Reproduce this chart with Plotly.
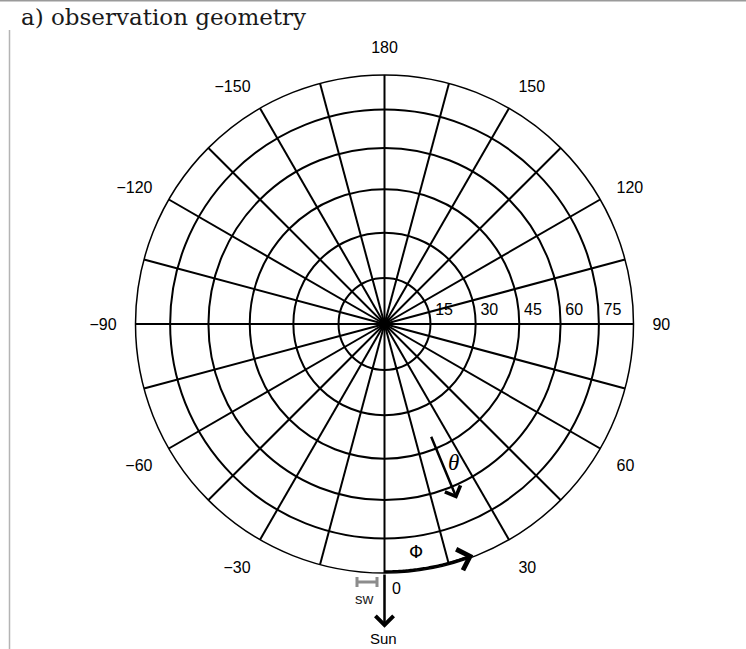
import numpy as np
import plotly.graph_objects as go

# ---------------- data ----------------
zenith_circles = [15, 30, 45, 60, 75]          # viewing-zenith grid circles (deg)
zenith_labels = ["15", "30", "45", "60", "75"]
zenith_max = 90
azimuth_step = 15                               # spoke spacing (deg)
azimuth_ticks = [0, 30, 60, 90, 120, 150, 180, 210, 240, 270, 300, 330]
azimuth_labels = ["0", "30", "60", "90", "120", "150", "180",
                  "\u2212150", "\u2212120", "\u221290", "\u221260", "\u221230"]
theta_arrow_zenith = [40, 65]                   # theta arrow from/to zenith
theta_arrow_azimuth = 22.5
phi_arc_azimuth = [0, 20]                       # phi arc from/to azimuth

# ---------------- geometry ----------------
W, H = 746, 649
CX, CY, R = 384.5, 324.0, 249.0                 # polar centre / radius in px


def ea(z):
    """Lambert equal-area radius for zenith angle z (deg)."""
    return 2.0 * np.sin(np.radians(z) / 2.0)


RMAX = ea(zenith_max)


def proj(z, az, scale=None):
    rho = R * (ea(z) / RMAX if scale is None else scale)
    a = np.radians(az)
    return CX + rho * np.sin(a), CY + rho * np.cos(a)


label_font = dict(family="Liberation Sans, Arial, sans-serif", size=16, color="black")

fig = go.Figure()

# radial (zenith) labels along the 90 deg azimuth
fig.add_trace(go.Scatterpolar(
    r=[ea(z) for z in zenith_circles], theta=[90] * len(zenith_circles),
    mode="markers+text", text=zenith_labels, textposition="top right",
    marker=dict(size=6, color="rgba(0,0,0,0)"),
    textfont=label_font, cliponaxis=False, hoverinfo="skip", showlegend=False))

# phi arc along the outer circle
arc_theta = np.linspace(phi_arc_azimuth[0], phi_arc_azimuth[1], 60)
fig.add_trace(go.Scatterpolar(
    r=[RMAX * 0.995] * len(arc_theta), theta=arc_theta, mode="lines",
    line=dict(color="black", width=3), cliponaxis=False,
    hoverinfo="skip", showlegend=False))

# frame lines (cartesian pixel overlay)
fig.add_trace(go.Scatter(x=[9.5, 9.5], y=[30, H], mode="lines",
                         line=dict(color="#b4b4b4", width=1.5),
                         hoverinfo="skip", showlegend=False))
fig.add_trace(go.Scatter(x=[0, W], y=[0.7, 0.7], mode="lines",
                         line=dict(color="#9a9a9a", width=1.5),
                         hoverinfo="skip", showlegend=False))

# sw bar (grey I-beam)
fig.add_trace(go.Scatter(
    x=[CX - 17.5], y=[CY + 258], mode="markers",
    marker=dict(size=1, color="rgba(0,0,0,0)"),
    error_x=dict(type="data", array=[10], symmetric=True, thickness=3,
                 width=5, color="#8c8c8c"),
    hoverinfo="skip", showlegend=False))

all_spokes = list(range(0, 360, azimuth_step))
spoke_text = [azimuth_labels[azimuth_ticks.index(v)] if (v in azimuth_ticks and v != 0) else ""
              for v in all_spokes]

annotations = []
# title
annotations.append(dict(x=19, y=17, xref="x", yref="y", xanchor="left", yanchor="middle",
                        text="a) observation geometry", showarrow=False,
                        font=dict(family="DejaVu Serif, serif", size=23, color="#1a1a1a")))
# Sun arrow
sx0, sy0 = proj(zenith_max, 0)
sx1, sy1 = proj(0, 0, scale=1.22)
annotations.append(dict(x=sx1, y=sy1, ax=sx0, ay=sy0, xref="x", yref="y", axref="x", ayref="y",
                        text="", showarrow=True, arrowhead=4, arrowsize=1.4,
                        arrowwidth=2.5, arrowcolor="black"))
annotations.append(dict(x=CX - 1.5, y=CY + 314, xref="x", yref="y", text="Sun", showarrow=False,
                        font=dict(family="Liberation Sans, Arial, sans-serif", size=15, color="black")))
annotations.append(dict(x=CX - 20.5, y=CY + 274, xref="x", yref="y", text="sw", showarrow=False,
                        font=dict(family="Liberation Sans, Arial, sans-serif", size=15, color="#222")))
annotations.append(dict(x=CX + 11.5, y=CY + 264, xref="x", yref="y", text="0", showarrow=False,
                        font=label_font))
# theta arrow
tx0, ty0 = proj(theta_arrow_zenith[0], theta_arrow_azimuth)
tx1, ty1 = proj(theta_arrow_zenith[1], theta_arrow_azimuth)
annotations.append(dict(x=tx1, y=ty1, ax=tx0, ay=ty0, xref="x", yref="y", axref="x", ayref="y",
                        text="", showarrow=True, arrowhead=4, arrowsize=1.3,
                        arrowwidth=2.5, arrowcolor="black"))
lx, ly = proj(52, 26.5)
annotations.append(dict(x=lx, y=ly, xref="x", yref="y", text="<i>θ</i>", showarrow=False,
                        font=dict(family="Liberation Serif, serif", size=23, color="black")))
# phi arrowhead and label
hx0, hy0 = proj(zenith_max, phi_arc_azimuth[1] - 5, scale=0.995)
hx1, hy1 = proj(zenith_max, phi_arc_azimuth[1] + 1, scale=0.995)
annotations.append(dict(x=hx1, y=hy1, ax=hx0, ay=hy0, xref="x", yref="y", axref="x", ayref="y",
                        text="", showarrow=True, arrowhead=4, arrowsize=1.7,
                        arrowwidth=2.5, arrowcolor="black"))
px, py = proj(81.5, 8)
annotations.append(dict(x=px, y=py, xref="x", yref="y", text="Φ", showarrow=False,
                        font=dict(family="DejaVu Sans, sans-serif", size=18, color="black")))

fig.update_layout(
    width=W, height=H, margin=dict(l=0, r=0, t=0, b=0),
    paper_bgcolor="white", plot_bgcolor="white", showlegend=False,
    xaxis=dict(range=[0, W], domain=[0, 1], visible=False, fixedrange=True),
    yaxis=dict(range=[H, 0], domain=[0, 1], visible=False, fixedrange=True),
    polar=dict(
        domain=dict(x=[(CX - R) / W, (CX + R) / W],
                    y=[(H - CY - R) / H, (H - CY + R) / H]),
        bgcolor="rgba(0,0,0,0)",
        radialaxis=dict(range=[0, RMAX], tickvals=[ea(z) for z in zenith_circles],
                        showticklabels=False, ticks="", showline=False,
                        gridcolor="black", gridwidth=2),
        angularaxis=dict(rotation=270, direction="counterclockwise",
                         tickmode="array", tickvals=all_spokes, ticktext=spoke_text,
                         ticks="outside", ticklen=15, tickcolor="rgba(0,0,0,0)",
                         tickfont=label_font, showline=True, linecolor="black",
                         linewidth=1.5, gridcolor="black", gridwidth=1.6),
    ),
    annotations=annotations,
)

fig.write_html("out.html", config={"displayModeBar": False},
               post_script="document.body.style.margin='0';document.body.style.overflow='hidden';")
